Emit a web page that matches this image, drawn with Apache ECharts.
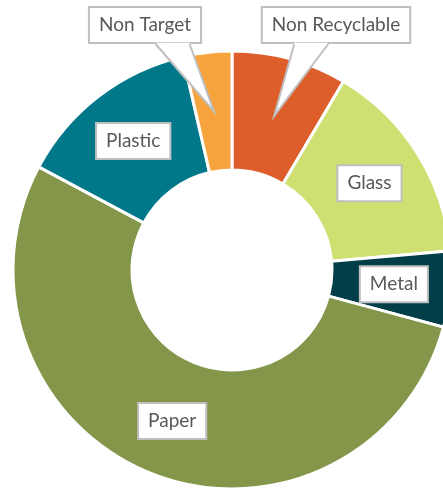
<!DOCTYPE html>
<html>
<head>
<meta charset="utf-8">
<script src="https://cdn.jsdelivr.net/npm/echarts@6/dist/echarts.min.js"></script>
<style>
  html, body { margin: 0; padding: 0; background: #ffffff; }
  #chart { width: 443px; height: 491px; }
</style>
</head>
<body>
<div id="chart"></div>
<script>
// Waste composition (share of total, %)
const categories = ['Non Recyclable', 'Glass', 'Metal', 'Paper', 'Plastic', 'Non Target'];
const shares = [8.5, 15.1, 5.6, 53.6, 13.6, 3.6];
const sliceColors = ['#DD5E2B', '#CFDF72', '#023E48', '#84964A', '#01788A', '#F7A43E'];

// Labels lifted above the ring with a pointer back to their slice
const calloutCenters = {
  'Non Recyclable': [336, 25],
  'Non Target': [145, 25]
};

const chart = echarts.init(document.getElementById('chart'), null, { renderer: 'canvas' });

chart.setOption({
  animation: false,
  backgroundColor: '#ffffff',
  series: [{
    type: 'pie',
    center: [232, 270],
    radius: [100, 219],
    startAngle: 90,
    clockwise: true,
    avoidLabelOverlap: false,
    itemStyle: { borderColor: '#ffffff', borderWidth: 3 },
    label: {
      show: true,
      position: 'inside',
      formatter: '{b}',
      fontFamily: 'Lato',
      fontSize: 19,
      color: '#595959',
      backgroundColor: '#ffffff',
      borderColor: '#BFBFBF',
      borderWidth: 2,
      padding: [8, 9, 7, 9]
    },
    labelLine: { show: false },
    emphasis: { disabled: true },
    labelLayout: function (params) {
      const c = calloutCenters[categories[params.dataIndex]];
      if (!c) return {};
      return { x: c[0], y: c[1], align: 'center', verticalAlign: 'middle' };
    },
    data: categories.map((name, i) => ({
      name: name,
      value: shares[i],
      itemStyle: { color: sliceColors[i] }
    }))
  }]
});

// Pointer wedges for the lifted labels, built from the slice layout and label boxes
(function drawCallouts() {
  const series = chart.getModel().getSeriesByIndex(0);
  const data = series.getData();
  const graphics = [];
  categories.forEach((name, i) => {
    if (!calloutCenters[name]) return;
    const lay = data.getItemLayout(i);
    const mid = (lay.startAngle + lay.endAngle) / 2;
    const rMid = (lay.r0 + lay.r) / 2;
    const tip = [lay.cx + rMid * Math.cos(mid), lay.cy + rMid * Math.sin(mid)];
    const label = data.getItemGraphicEl(i).getTextContent();
    const rect = label.getBoundingRect().clone();
    rect.applyTransform(label.getComputedTransform());
    const boxCx = rect.x + rect.width / 2;
    const bottom = rect.y + rect.height;
    const baseC = boxCx + 0.4 * (tip[0] - boxCx);
    const half = 17;
    const b1 = [baseC - half, bottom];
    const b2 = [baseC + half, bottom];
    graphics.push({
      type: 'polygon', z: 100,
      shape: { points: [[b1[0], bottom - 1.2], tip, [b2[0], bottom - 1.2]] },
      style: { fill: '#ffffff', stroke: null }
    });
    graphics.push({
      type: 'polyline', z: 101,
      shape: { points: [b1, tip, b2] },
      style: { stroke: '#BFBFBF', lineWidth: 2, fill: null, lineJoin: 'miter' }
    });
  });
  chart.setOption({ graphic: graphics });
})();
</script>
</body>
</html>
